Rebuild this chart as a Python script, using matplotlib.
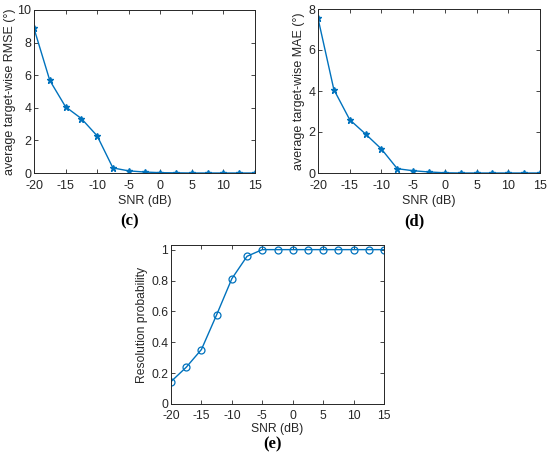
import matplotlib
matplotlib.use("Agg")
import matplotlib.pyplot as plt

snr = [-20, -17.5, -15, -12.5, -10, -7.5, -5, -2.5, 0, 2.5, 5, 7.5, 10, 12.5, 15]
rmse = [8.87, 5.68, 4.06, 3.34, 2.28, 0.31, 0.13, 0.06, 0.02, 0.01, 0.0, 0.0, 0.0, 0.0, 0.0]
mae = [7.55, 4.07, 2.60, 1.90, 1.17, 0.21, 0.11, 0.05, 0.01, 0.0, 0.0, 0.0, 0.0, 0.0, 0.0]
prob = [0.145, 0.238, 0.353, 0.578, 0.812, 0.957, 1.0, 1.0, 1.0, 1.0, 1.0, 1.0, 1.0, 1.0, 1.0]
xticks = [-20, -15, -10, -5, 0, 5, 10, 15]

plt.rcParams['font.family'] = ['Liberation Sans', 'DejaVu Sans']
W, H = 550, 463
fig = plt.figure(figsize=(5.5, 4.63), dpi=100)
blue = '#0072BD'
tc = '#262626'

def ax_at(l, t, r, b):
    return fig.add_axes([l / W, 1 - b / H, (r - l) / W, (b - t) / H])

def style(ax, fs, xpad, xlp):
    ax.tick_params(direction='in', top=True, right=True, labelsize=fs,
                   colors=tc, length=3, width=0.6)
    ax.tick_params(axis='x', pad=xpad)
    ax.tick_params(axis='y', pad=2)
    for s in ax.spines.values():
        s.set_color(tc)
        s.set_linewidth(0.7)
    ax.set_xlim(-20, 15)
    ax.set_xticks(xticks)
    ax.set_xticklabels([str(v) for v in xticks])
    ax.set_xlabel('SNR (dB)', fontsize=fs, color=tc, labelpad=xlp)

ax1 = ax_at(34, 10, 255, 173)
ax1.plot(snr, rmse, '-*', color=blue, lw=1.0, ms=5)
style(ax1, 9, 5, 2)
ax1.set_ylim(0, 10)
ax1.set_yticks([0, 2, 4, 6, 8, 10])
ax1.set_ylabel('average target-wise RMSE (°)', fontsize=9, color=tc, labelpad=1)

ax2 = ax_at(318, 9, 540, 173)
ax2.plot(snr, mae, '-*', color=blue, lw=1.0, ms=5)
style(ax2, 9, 5, 2)
ax2.set_ylim(0, 8)
ax2.set_yticks([0, 2, 4, 6, 8])
ax2.set_ylabel('average target-wise MAE (°)', fontsize=9, color=tc, labelpad=2)

ax3 = ax_at(171, 245, 384, 404)
ax3.plot(snr, prob, '-o', color=blue, lw=1.0, ms=5, mfc='none', mew=0.9)
style(ax3, 8.7, 4.5, 0.5)
ax3.set_ylim(0, 1.03)
ax3.set_yticks([0, 0.2, 0.4, 0.6, 0.8, 1])
ax3.set_yticklabels(['0', '0.2', '0.4', '0.6', '0.8', '1'])
ax3.set_ylabel('Resolution probability', fontsize=8.7, color=tc, labelpad=2)

lab = dict(fontsize=12, fontweight='bold', family=['Liberation Serif', 'DejaVu Serif'],
           ha='center', va='center', color='black')
fig.text(130 / W, 1 - 221 / H, '(c)', **lab)
fig.text(414 / W, 1 - 221 / H, '(d)', **lab)
fig.text(272 / W, 1 - 444 / H, '(e)', **lab)

fig.savefig('out.png', dpi=100)
